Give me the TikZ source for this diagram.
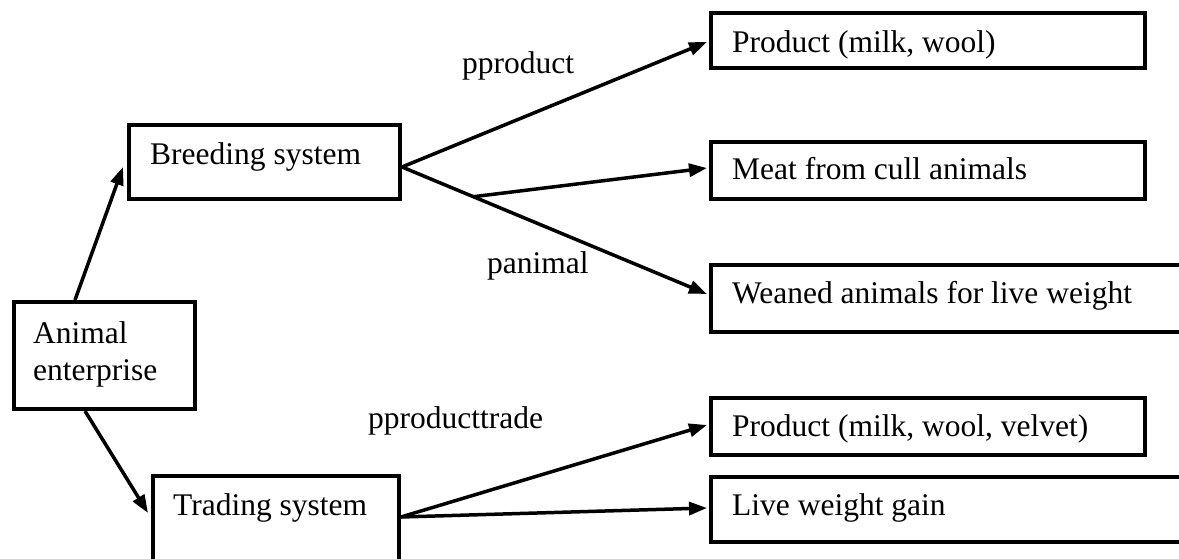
\documentclass[tikz,border=0pt]{standalone}
\usepackage{fontspec}
\setmainfont{Liberation Serif}
\usetikzlibrary{arrows.meta,calc}
\begin{document}
\begin{tikzpicture}[x=1pt,y=-1pt,
  box/.style={draw, line width=4pt, inner sep=0pt, anchor=north west},
  txt/.style={anchor=base west, inner sep=0pt, font=\fontsize{31.5}{37}\selectfont},
  conn/.style={line width=3.5pt, -{Triangle[length=18pt,width=13pt]}}]
\useasboundingbox (0,0) rectangle (1179,559);
\clip (0,0) rectangle (1179,559);
% boxes
\node[box, minimum width=181pt, minimum height=107pt] (animal) at (12,300) {};
\node[box, minimum width=271pt, minimum height=74pt] (breeding) at (127,123) {};
\node[box, minimum width=246pt, minimum height=130pt] (trading) at (151,474) {};
\node[box, minimum width=434pt, minimum height=55pt] (product) at (709,11) {};
\node[box, minimum width=434pt, minimum height=57pt] (meat) at (709,140) {};
\node[box, minimum width=500pt, minimum height=67pt] (weaned) at (709,263) {};
\node[box, minimum width=434pt, minimum height=57pt] (velvet) at (709,396) {};
\node[box, minimum width=500pt, minimum height=65pt] (live) at (709,475) {};
% texts
\node[txt] (animal-a) at ($(animal.north west)+(21,43)$) {Animal};
\node[txt] (animal-b) at ($(animal.north west)+(21,80)$) {enterprise};
\node[txt] (breeding-t) at ($(breeding.north west)+(23,42)$) {Breeding system};
\node[txt] (trading-t) at ($(trading.north west)+(22,41)$) {Trading system};
\node[txt] (product-t) at ($(product.north west)+(23,42)$) {Product (milk, wool)};
\node[txt] (meat-t) at ($(meat.north west)+(23,40)$) {Meat from cull animals};
\node[txt] (weaned-t) at ($(weaned.north west)+(23,40)$) {Weaned animals for live weight};
\node[txt] (velvet-t) at ($(velvet.north west)+(23,40)$) {Product (milk, wool, velvet)};
\node[txt] (live-t) at ($(live.north west)+(23,40)$) {Live weight gain};
% labels
\node[txt] (lab-pproduct) at (462,74) {pproduct};
\node[txt] (lab-panimal) at (487,273) {panimal};
\node[txt] (lab-ptrade) at (368,428) {pproducttrade};
% connector points
\coordinate (a-top) at ($(animal.north west)+(63,0)$);
\coordinate (a-bot) at ($(animal.south west)+(73,0)$);
\coordinate (b-in) at ($(breeding.north west)+(-4,44)$);
\coordinate (t-in) at ($(trading.north west)+(-3,39)$);
\coordinate (bv) at ($(breeding.north east)+(0,44)$);
\coordinate (tv) at ($(trading.north east)+(0,43)$);
\coordinate (product-in) at ($(product.north west)+(-2,31)$);
\coordinate (meat-in) at ($(meat.north west)+(-2,28)$);
\coordinate (weaned-in) at ($(weaned.north west)+(-2,31)$);
\coordinate (velvet-in) at ($(velvet.north west)+(-2,29)$);
\coordinate (live-in) at ($(live.north west)+(-2,33)$);
\coordinate (meat-start) at ($(bv)!0.234!(weaned-in)$);
% connectors
\draw[conn] (a-top) -- (b-in);
\draw[conn] (a-bot) -- (t-in);
\draw[conn] (bv) -- (product-in);
\draw[conn] (bv) -- (weaned-in);
\draw[conn] (meat-start) -- (meat-in);
\draw[conn] (tv) -- (velvet-in);
\draw[conn] (tv) -- (live-in);
\end{tikzpicture}
\end{document}
